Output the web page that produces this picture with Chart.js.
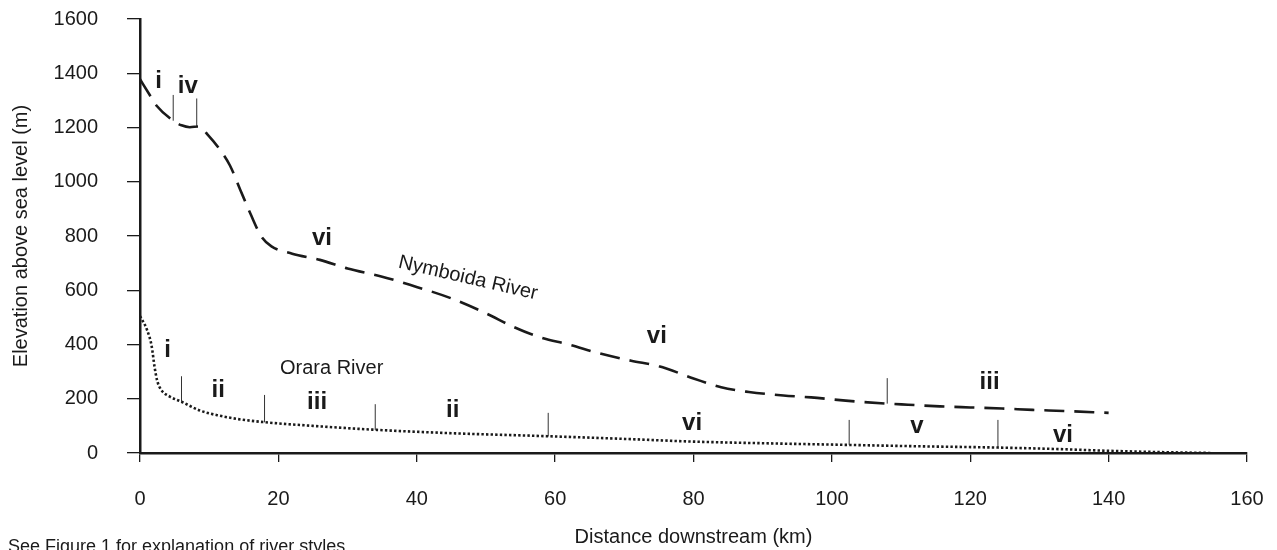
<!DOCTYPE html>
<html>
<head>
<meta charset="utf-8">
<script src="https://cdn.jsdelivr.net/npm/chart.js@4/dist/chart.umd.min.js"></script>
<style>
  html, body { margin: 0; padding: 0; background: #fff; }
  #wrap { width: 1277px; height: 550px; position: relative; }
</style>
</head>
<body>
<div id="wrap"><canvas id="profile"></canvas></div>
<script>
// --- long profiles (distance km / elevation m) ---
const nymboidaKm   = [0, 1.5, 2.4, 4.8, 6, 7.2, 8.5, 9.9, 11.5, 13, 14.5, 16, 17.5, 19, 22, 26, 30, 35, 39, 45, 50, 54, 58, 62, 66, 71, 75, 80, 84, 88, 93, 97, 102, 108, 111, 115.6, 120, 124.6, 129, 133.5, 140];
const nymboidaElev = [1378, 1316, 1280, 1225, 1208, 1201, 1204, 1170, 1120, 1060, 970, 880, 800, 762, 735, 712, 680, 650, 620, 570, 515, 465, 425, 400, 370, 340, 320, 275, 242, 225, 212, 205, 193, 182, 178, 172, 168, 164, 159, 155, 148];

const oraraKm   = [0, 1, 1.7, 2.1, 2.5, 3.1, 4.3, 6, 8.7, 11.6, 14.2, 17.8, 25, 33.7, 45, 58.8, 70, 80, 90, 102, 112, 124, 132, 140, 148, 155];
const oraraElev = [505, 455, 392, 318, 265, 232, 208, 189, 156, 137, 125, 114, 100, 86, 73, 62, 52, 42, 36, 30, 25, 20, 15, 8, 3, 0];

// --- river style boundaries (vertical marks) ---
const nymBreakKm   = [4.8, 8.2, 108];
const nymBreakTop  = [1320, 1307, 276];
const nymBreakBase = [1225, 1203, 182];
const oraBreakKm   = [6, 18, 34, 59, 102.5, 124];
const oraBreakTop  = [283, 214, 180, 148, 122, 122];
const oraBreakBase = [189, 113, 85, 61, 30, 20];

// --- river style labels (x = centre, y = baseline) ---
const nymStyles    = ['i', 'iv', 'vi', 'vi', 'iii'];
const nymStyleKm   = [2.7, 6.9, 26.3, 74.7, 122.8];
const nymStyleElev = [1346, 1327, 767, 406, 236];
const oraStyles    = ['i', 'ii', 'iii', 'ii', 'vi', 'v', 'vi'];
const oraStyleKm   = [4.0, 11.3, 25.6, 45.2, 79.8, 112.3, 133.4];
const oraStyleElev = [354, 206, 162, 133, 85, 74, 41];

// --- axes ---
const xTicks = [0, 20, 40, 60, 80, 100, 120, 140, 160];
const yTicks = [0, 200, 400, 600, 800, 1000, 1200, 1400, 1600];

const INK = '#1a1a1a';
const FONT = "'Liberation Sans', Arial, Helvetica, sans-serif";

const toPts = (xs, ys) => xs.map((x, i) => ({ x: x, y: ys[i] }));

// one little dataset per boundary mark
function breakSets(kms, tops, bases) {
    return kms.map((k, i) => ({
        data: [{ x: k, y: bases[i] }, { x: k, y: tops[i] }],
        showLine: true, borderColor: '#333', borderWidth: 1,
        pointRadius: 0, tension: 0
    }));
}

// text annotations drawn straight on the canvas
const annotations = {
    id: 'annotations',
    afterDatasetsDraw(chart) {
        const { ctx, scales: { x, y } } = chart;
        ctx.save();
        ctx.fillStyle = INK;
        ctx.textAlign = 'center';

        ctx.textBaseline = 'alphabetic';
        ctx.font = 'bold 24px ' + FONT;
        nymStyles.forEach((s, i) => ctx.fillText(s, x.getPixelForValue(nymStyleKm[i]), y.getPixelForValue(nymStyleElev[i])));
        oraStyles.forEach((s, i) => ctx.fillText(s, x.getPixelForValue(oraStyleKm[i]), y.getPixelForValue(oraStyleElev[i])));

        ctx.textBaseline = 'middle';
        ctx.font = '20px ' + FONT;
        ctx.fillText('Orara River', x.getPixelForValue(27.7), y.getPixelForValue(310));

        ctx.save();
        ctx.translate(x.getPixelForValue(47.4), y.getPixelForValue(645));
        ctx.rotate(13 * Math.PI / 180);
        ctx.fillText('Nymboida River', 0, 0);
        ctx.restore();

        // footnote, half cut off by the bottom edge like the original
        ctx.textAlign = 'left';
        ctx.textBaseline = 'top';
        ctx.font = '18px ' + FONT;
        ctx.fillText('See Figure 1 for explanation of river styles', 8, 538);
        ctx.restore();
    }
};

new Chart(document.getElementById('profile'), {
    type: 'scatter',
    data: {
        datasets: [
            {
                label: 'Nymboida River',
                data: toPts(nymboidaKm, nymboidaElev),
                showLine: true, borderColor: INK, borderWidth: 2.6,
                borderDash: [20, 10], pointRadius: 0,
                cubicInterpolationMode: 'monotone'
            },
            {
                label: 'Orara River',
                data: toPts(oraraKm, oraraElev),
                showLine: true, borderColor: INK, borderWidth: 2.6,
                borderDash: [2.4, 2.2], pointRadius: 0,
                cubicInterpolationMode: 'monotone'
            },
            ...breakSets(nymBreakKm, nymBreakTop, nymBreakBase),
            ...breakSets(oraBreakKm, oraBreakTop, oraBreakBase)
        ]
    },
    options: {
        responsive: true,
        maintainAspectRatio: false,
        animation: false,
        layout: { padding: { left: 0, right: 30, top: 19, bottom: 0 } },
        plugins: { legend: { display: false }, tooltip: { enabled: false } },
        scales: {
            x: {
                type: 'linear', min: 0, max: 160,
                afterBuildTicks: (s) => { s.ticks = xTicks.map(v => ({ value: v })); },
                // fixed height, and no extra end padding from the big tick gap
                afterFit: (s) => { s.height = 97; s.paddingLeft = 0; s.paddingRight = 0; },
                grid: { drawOnChartArea: false, drawTicks: true, tickLength: 9, color: INK, lineWidth: 1.3 },
                border: { display: true, color: INK, width: 2.5 },
                ticks: { color: INK, font: { family: FONT, size: 20 }, padding: 25, maxRotation: 0,
                         callback: (v) => String(v) },
                title: { display: true, text: 'Distance downstream (km)', color: INK, font: { family: FONT, size: 20 }, padding: { top: 0, bottom: 1 } }
            },
            y: {
                type: 'linear', min: 0, max: 1600,
                afterBuildTicks: (s) => { s.ticks = yTicks.map(v => ({ value: v })); },
                afterFit: (s) => { s.width = 140; s.paddingTop = 0; s.paddingBottom = 0; },
                grid: { drawOnChartArea: false, drawTicks: true, tickLength: 13, color: INK, lineWidth: 1.3 },
                border: { display: true, color: INK, width: 2.5 },
                ticks: { color: INK, font: { family: FONT, size: 20 }, padding: 29,
                         callback: (v) => String(v) },
                title: { display: true, text: 'Elevation above sea level (m)', color: INK, font: { family: FONT, size: 20 }, padding: { top: 9, bottom: 0 } }
            }
        }
    },
    plugins: [annotations]
});
</script>
</body>
</html>
